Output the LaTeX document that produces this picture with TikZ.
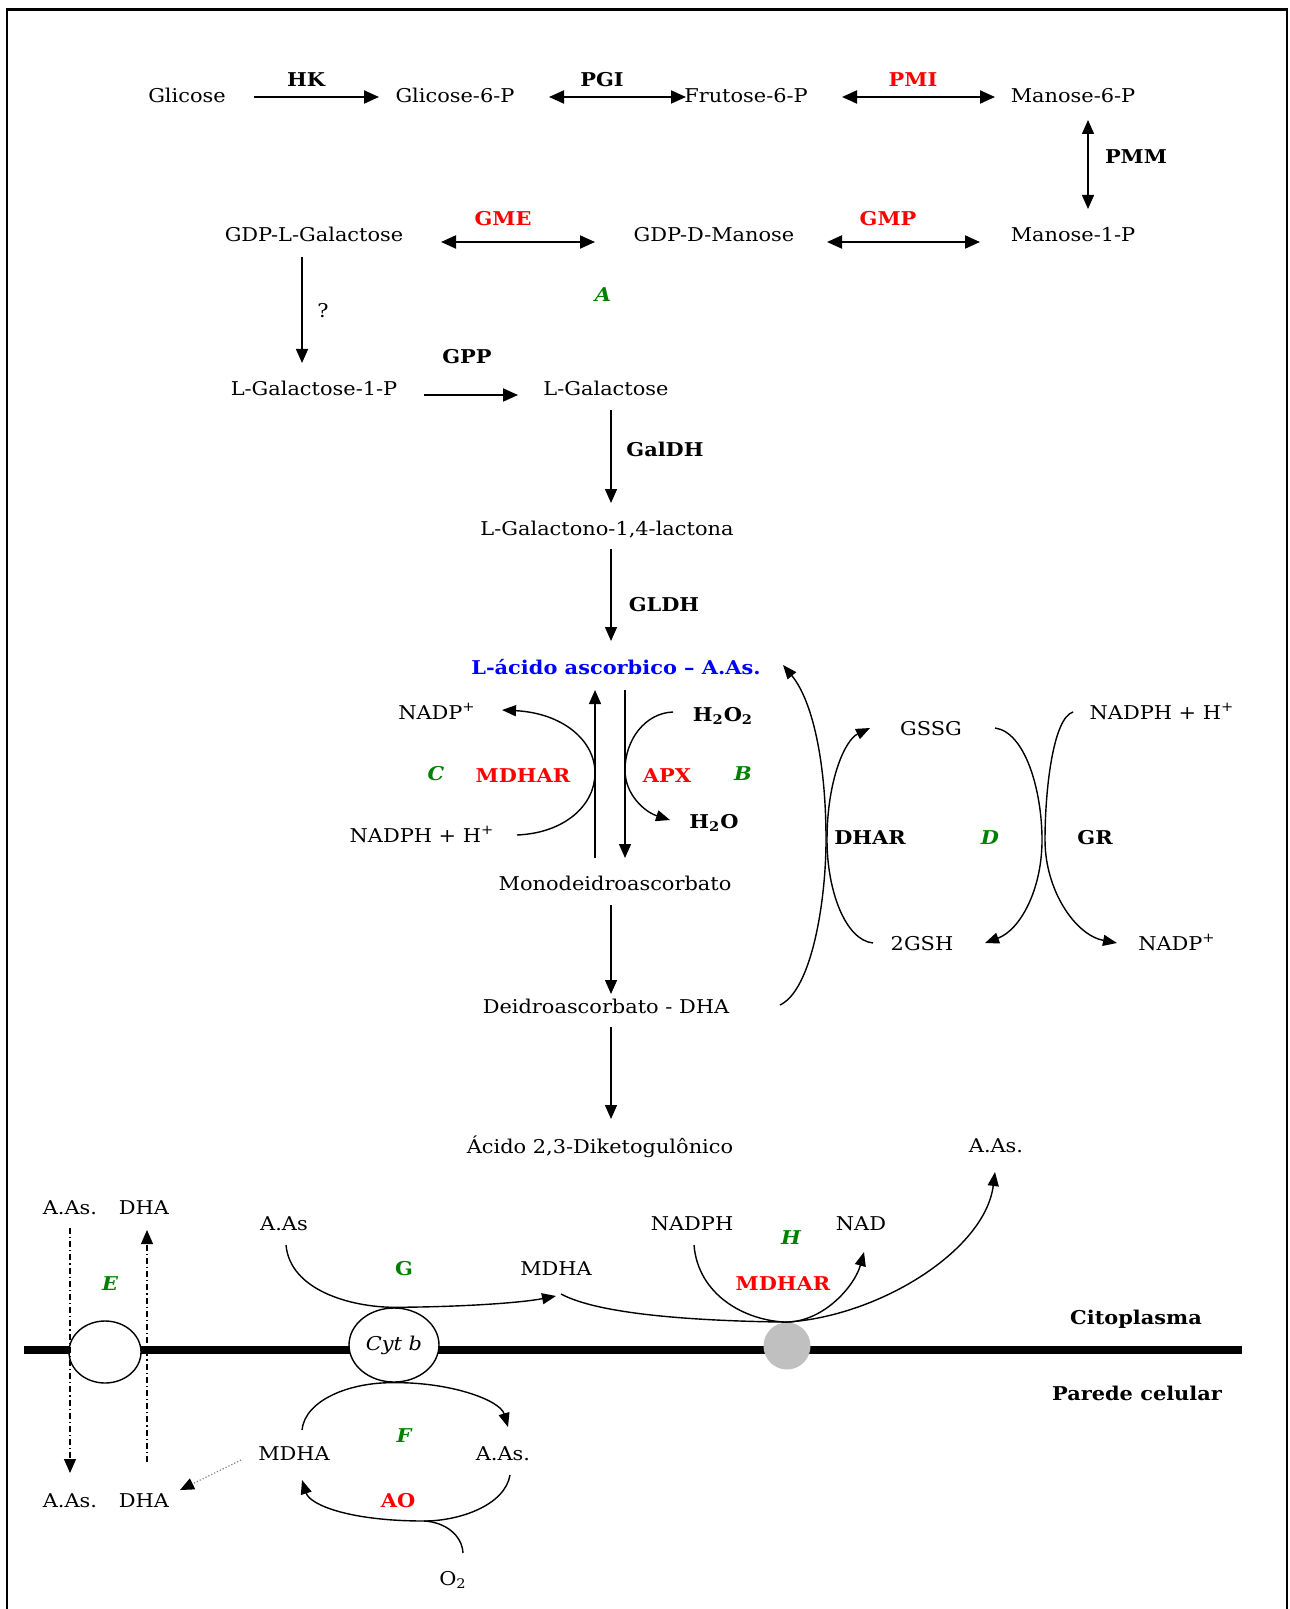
\documentclass[tikz,border=0pt]{standalone}
\usepackage{fontspec}
\setmainfont{DejaVu Serif}[FakeStretch=1.1]
\usetikzlibrary{arrows.meta,shapes.geometric,calc}
\definecolor{rd}{RGB}{255,0,0}
\definecolor{gn}{RGB}{0,128,0}
\definecolor{bl}{RGB}{0,0,255}
\definecolor{mgray}{RGB}{192,192,192}
\begin{document}
\begin{tikzpicture}[x=0.5pt,y=-0.5pt,
 txt/.style={inner sep=0pt, text height=7pt, text depth=0pt, font=\fontsize{9.5}{11}\selectfont},
 enz/.style={txt, font=\fontsize{9.5}{11}\selectfont\bfseries},
 rdenz/.style={enz, text=rd},
 lbl/.style={txt, font=\fontsize{9.5}{11}\selectfont\bfseries\itshape, text=gn},
 lblup/.style={txt, font=\fontsize{9.5}{11}\selectfont\bfseries, text=gn},
 thk/.style={line width=1pt, -{Triangle[length=7.5pt,width=6.5pt]}},
 thkd/.style={line width=1pt, {Triangle[length=7.5pt,width=6.5pt]}-{Triangle[length=7.5pt,width=6.5pt]}},
 thn/.style={line width=0.7pt, -{Triangle[length=7pt,width=6pt]}},
 thnd/.style={line width=0.7pt, {Triangle[length=7pt,width=6pt]}-{Triangle[length=7pt,width=6pt]}},
 crv/.style={line width=0.7pt},
 crva/.style={line width=0.7pt, -{Triangle[length=7pt,width=5.5pt]}},
 dashdot/.style={line width=0.6pt, dash pattern=on 3pt off 1.5pt on 0.6pt off 1.5pt},
]
\useasboundingbox (0,0) rectangle (1289,1609);
% frame
\draw[line width=1.1pt] (7,1609) -- (7,9.5) -- (1287,9.5) -- (1287,1609);

% ---- top nodes
\node[txt] (glic) at (187,96) {Glicose};
\node[enz] (hk) at (306,80) {HK};
\node[txt] (g6p) at (455,96) {Glicose-6-P};
\node[enz] (pgi) at (602,80) {PGI};
\node[txt] (f6p) at (746,96) {Frutose-6-P};
\node[rdenz] (pmi) at (913,80) {PMI};
\node[txt] (m6p) at (1073,96) {Manose-6-P};
\node[enz] (pmm) at (1136,157) {PMM};
\node[txt] (gdplg) at (314,235) {GDP-L-Galactose};
\node[rdenz] (gme) at (503,219) {GME};
\node[txt] (gdpdm) at (714,235) {GDP-D-Manose};
\node[rdenz] (gmp) at (888,219) {GMP};
\node[txt] (m1p) at (1073,235) {Manose-1-P};
\node[lbl] (lblA) at (603,295) {A};
\node[txt] (q) at (323,311) {?};
\node[txt] (lg1p) at (314,389) {L-Galactose-1-P};
\node[enz] (gpp) at (467,357) {GPP};
\node[txt] (lgal) at (606,389) {L-Galactose};
\node[enz] (galdh) at (665,450) {GalDH};
\node[txt] (lgl) at (607,528) {L-Galactono-1,4-lactona};
\node[enz] (gldh) at (664,604) {GLDH};
\node[enz, text=bl] (aas) at (616,667) {L-ácido ascorbico – A.As.};

% ---- middle nodes
\node[txt] (nadp1) at (437,712) {NADP\textsuperscript{+}};
\node[enz] (h2o2) at (723,714) {H\textsubscript{2}O\textsubscript{2}};
\node[lbl] (lblC) at (436,773) {C};
\node[rdenz] (mdhar1) at (523,775) {MDHAR};
\node[rdenz] (apx) at (667,775) {APX};
\node[lbl] (lblB) at (743,773) {B};
\node[txt] (nadph1) at (422,835) {NADPH + H\textsuperscript{+}};
\node[enz] (h2o) at (714,821) {H\textsubscript{2}O};
\node[txt] (mda) at (615,883) {Monodeidroascorbato};
\node[txt] (dha) at (606,1006) {Deidroascorbato - DHA};
\node[txt] (dkg) at (600,1146) {Ácido 2,3-Diketogulônico};
\node[txt] (gssg) at (931,728) {GSSG};
\node[txt] (nadph2) at (1162,712) {NADPH + H\textsuperscript{+}};
\node[enz] (dhar) at (870,837) {DHAR};
\node[lbl] (lblD) at (990,837) {D};
\node[enz] (gr) at (1095,837) {GR};
\node[txt] (gsh) at (922,943) {2GSH};
\node[txt] (nadp2) at (1177,943) {NADP\textsuperscript{+}};

% ---- bottom nodes
\node[txt] (aasR) at (996,1145) {A.As.};
\node[txt] (aasL1) at (70,1207) {A.As.};
\node[txt] (dhaL1) at (144,1207) {DHA};
\node[lbl] (lblE) at (110,1283) {E};
\node[txt] (aasG) at (284,1223) {A.As};
\node[lblup] (lblG) at (404,1268) {G};
\node[txt] (mdhaG) at (556,1268) {MDHA};
\node[txt] (nadph3) at (692,1223) {NADPH};
\node[lbl] (lblH) at (791,1237) {H};
\node[txt] (nad) at (861,1223) {NAD};
\node[rdenz] (mdhar2) at (783,1283) {MDHAR};
\node[enz] (cito) at (1136,1317) {Citoplasma};
\node[enz] (parede) at (1137,1393) {Parede celular};

% membrane
\draw[line width=4pt] (24,1350) -- (1242,1350);
\node[draw, fill=white, ellipse, line width=0.7pt, minimum width=36pt, minimum height=31pt, inner sep=0pt] (ellL) at (105,1352) {};
\node[draw, fill=white, ellipse, line width=0.7pt, minimum width=45pt, minimum height=37pt, inner sep=0pt, font=\fontsize{9.5}{11}\selectfont\itshape] (cytb) at (394,1345) {Cyt b};
\node[circle, fill=mgray, minimum size=23.5pt, inner sep=0pt] (gray) at (787,1346) {};

\node[lbl] (lblF) at (404,1435) {F};
\node[txt] (mdhaF) at (294,1453) {MDHA};
\node[txt] (aasF) at (503,1453) {A.As.};
\node[rdenz] (lblAO) at (398,1500) {AO};
\node[txt] (o2) at (453,1578) {O\textsubscript{2}};
\node[txt] (aasL2) at (70,1500) {A.As.};
\node[txt] (dhaL2) at (144,1500) {DHA};

% ---- straight arrows
\draw[thk] ($(glic)+(67,1)$) -- ($(g6p)+(-76,1)$);
\draw[thkd] ($(g6p)+(94,1)$) -- ($(f6p)+(-60,1)$);
\draw[thkd] ($(f6p)+(96,1)$) -- ($(m6p)+(-78,1)$);
\draw[thnd] ($(m6p)+(15,24)$) -- ($(m1p)+(15,-26)$);
\draw[thkd] ($(gdplg)+(127,7)$) -- ($(gdpdm)+(-119,7)$);
\draw[thkd] ($(gdpdm)+(113,7)$) -- ($(m1p)+(-93,7)$);
\draw[thn] ($(gdplg)+(-12,22)$) -- ($(lg1p)+(-12,-26)$);
\draw[thk] ($(lg1p)+(110,6)$) -- ($(lgal)+(-88,6)$);
\draw[thn] ($(lgal)+(5,21)$) -- ($(lgl)+(4,-25)$);
\draw[thn] ($(lgl)+(4,21)$) -- ($(aas)+(-5,-26)$);
\draw[thn] ($(mda)+(-20,-25)$) -- ($(aas)+(-21,23)$);
\draw[thn] ($(aas)+(9,23)$) -- ($(mda)+(10,-25)$);
\draw[thn] ($(mda)+(-4,22)$) -- ($(dha)+(5,-12)$);
\draw[thn] ($(dha)+(5,21)$) -- ($(dkg)+(11,-27)$);

% ---- curves, middle
\draw[crva] ($(nadph1)+(95,0)$) .. controls (565,833) and (595,805) .. (595,773) .. controls (595,740) and (562,713) .. ($(nadp1)+(65,-2)$);
\draw[crva] ($(h2o2)+(-50,-2)$) .. controls (645,713) and (625,740) .. (625,770) .. controls (625,795) and (645,812) .. ($(h2o)+(-44,-1)$);
\draw[crva] ($(dha)+(174,-1)$) .. controls (812,990) and (826,900) .. (826,840) .. controls (826,760) and (812,700) .. ($(aas)+(167,-2)$);
\draw[crva] ($(gsh)+(-49,0)$) .. controls (845,940) and (827,890) .. (827,840) .. controls (827,780) and (845,740) .. ($(gssg)+(-61,0)$);
\draw[crva] ($(gssg)+(64,0)$) .. controls (1025,732) and (1042,790) .. (1042,840) .. controls (1042,890) and (1020,930) .. ($(gsh)+(63,0)$);
\draw[crva] ($(nadph2)+(-89,0)$) .. controls (1053,718) and (1045,790) .. (1045,840) .. controls (1045,890) and (1075,935) .. ($(nadp2)+(-60,0)$);

% ---- curves, bottom
\draw[crva] ($(aasG)+(2,22)$) .. controls (290,1290) and (350,1307) .. (cytb.north) .. controls (460,1307) and (520,1303) .. ($(mdhaG)+(0,28)$);
\draw[crva] ($(mdhaG)+(5,26)$) .. controls (600,1315) and (700,1321) .. (gray.north) .. controls (880,1316) and (985,1250) .. ($(aasR)+(-1,27)$);
\draw[crva] ($(nadph3)+(2,22)$) .. controls (698,1295) and (745,1321) .. (gray.north) .. controls (825,1321) and (855,1285) .. ($(nad)+(3,29)$);
\draw[crva] ($(mdhaF)+(8,-23)$) .. controls (305,1400) and (350,1382) .. (cytb.south) .. controls (450,1382) and (500,1400) .. ($(aasF)+(5,-26)$);
\coordinate (join) at (424,1521);
\draw[crva] ($(aasF)+(7,22)$) .. controls (505,1505) and (460,1521) .. (join) .. controls (350,1521) and (310,1505) .. ($(mdhaF)+(8,27)$);
\draw[crv] ($(o2)+(10,-25)$) .. controls (462,1535) and (445,1522) .. (join);

% transport arrows
\draw[dashdot, -{Triangle[length=7pt,width=6pt]}] ($(aasL1)+(0,21)$) -- ($(aasL2)+(0,-27)$);
\draw[dashdot, -{Triangle[length=7pt,width=6pt]}] ($(dhaL2)+(3,-38)$) -- ($(dhaL1)+(3,23)$);
\draw[line width=0.6pt, gray, densely dotted, -{Triangle[length=7pt,width=6pt,color=black]}] ($(mdhaF)+(-53,7)$) -- ($(dhaL2)+(36,-10)$);
\end{tikzpicture}
\end{document}
